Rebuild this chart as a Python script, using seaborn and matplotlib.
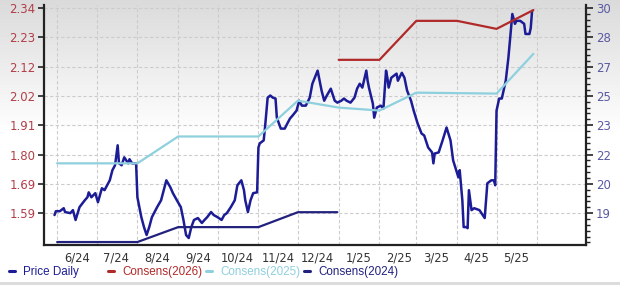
import numpy as np
import pandas as pd
import matplotlib
matplotlib.use("Agg")
import matplotlib.pyplot as plt
import seaborn as sns
from matplotlib.lines import Line2D
from matplotlib.ticker import AutoMinorLocator

# ---------------- data ----------------
price_dates = [
    "2024-05-30", "2024-05-31", "2024-06-03", "2024-06-06", "2024-06-07", "2024-06-11",
    "2024-06-13", "2024-06-15", "2024-06-18", "2024-06-22", "2024-06-24", "2024-06-25",
    "2024-06-27", "2024-06-30", "2024-07-02", "2024-07-05", "2024-07-07", "2024-07-11",
    "2024-07-13", "2024-07-15", "2024-07-17", "2024-07-18", "2024-07-20", "2024-07-22",
    "2024-07-25", "2024-07-26", "2024-07-28", "2024-07-31", "2024-08-01", "2024-08-04",
    "2024-08-06", "2024-08-08", "2024-08-10", "2024-08-12", "2024-08-16", "2024-08-19",
    "2024-08-21", "2024-08-23", "2024-08-26", "2024-08-28", "2024-08-31", "2024-09-03",
    "2024-09-05", "2024-09-07", "2024-09-09", "2024-09-11", "2024-09-13", "2024-09-16",
    "2024-09-19", "2024-09-21", "2024-09-23", "2024-09-26", "2024-09-28", "2024-10-01",
    "2024-10-04", "2024-10-06", "2024-10-08", "2024-10-11", "2024-10-14", "2024-10-16",
    "2024-10-19", "2024-10-21", "2024-10-22", "2024-10-24", "2024-10-26", "2024-10-28",
    "2024-10-31", "2024-11-01", "2024-11-02", "2024-11-05", "2024-11-06", "2024-11-08",
    "2024-11-10", "2024-11-12", "2024-11-14", "2024-11-15", "2024-11-18", "2024-11-21",
    "2024-11-23", "2024-11-25", "2024-11-27", "2024-11-30", "2024-12-02", "2024-12-04",
    "2024-12-07", "2024-12-10", "2024-12-12", "2024-12-16", "2024-12-19", "2024-12-21",
    "2024-12-23", "2024-12-26", "2024-12-29", "2024-12-31", "2025-01-03", "2025-01-05",
    "2025-01-07", "2025-01-10", "2025-01-13", "2025-01-15", "2025-01-17", "2025-01-19",
    "2025-01-22", "2025-01-23", "2025-01-24", "2025-01-27", "2025-01-28", "2025-01-30",
    "2025-02-02", "2025-02-04", "2025-02-06", "2025-02-07", "2025-02-08", "2025-02-10",
    "2025-02-14", "2025-02-15", "2025-02-18", "2025-02-20", "2025-02-22", "2025-02-25",
    "2025-02-27", "2025-03-02", "2025-03-05", "2025-03-07", "2025-03-10", "2025-03-13",
    "2025-03-14", "2025-03-15", "2025-03-18", "2025-03-21", "2025-03-24", "2025-03-27",
    "2025-03-29", "2025-04-01", "2025-04-02", "2025-04-03", "2025-04-05", "2025-04-06",
    "2025-04-08", "2025-04-09", "2025-04-10", "2025-04-12", "2025-04-14", "2025-04-18",
    "2025-04-22", "2025-04-24", "2025-04-27", "2025-04-29", "2025-04-30", "2025-05-01",
    "2025-05-03", "2025-05-05", "2025-05-08", "2025-05-10", "2025-05-13", "2025-05-15",
    "2025-05-16", "2025-05-19", "2025-05-22", "2025-05-23", "2025-05-26", "2025-05-27",
    "2025-05-28",
]
price_vals = [
    1.583, 1.597, 1.597, 1.608, 1.594, 1.590,
    1.601, 1.565, 1.612, 1.637, 1.648, 1.666,
    1.648, 1.663, 1.630, 1.681, 1.674, 1.710,
    1.747, 1.765, 1.838, 1.772, 1.765, 1.794,
    1.772, 1.787, 1.772, 1.772, 1.648, 1.575,
    1.539, 1.510, 1.539, 1.575, 1.612, 1.637,
    1.674, 1.710, 1.685, 1.663, 1.637, 1.612,
    1.565, 1.510, 1.499, 1.539, 1.565, 1.572,
    1.554, 1.565, 1.575, 1.594, 1.583, 1.575,
    1.565, 1.583, 1.590, 1.612, 1.637, 1.692,
    1.710, 1.674, 1.637, 1.594, 1.637, 1.663,
    1.666, 1.830, 1.845, 1.856, 1.903, 2.012,
    2.020, 2.012, 2.009, 1.939, 1.899, 1.899,
    1.918, 1.936, 1.947, 1.965, 2.001, 1.983,
    1.983, 2.012, 2.063, 2.111, 2.038, 2.001,
    2.020, 2.045, 2.001, 1.994, 2.001, 2.009,
    2.001, 1.994, 2.012, 2.045, 2.063, 2.049,
    2.111, 2.074, 2.049, 1.990, 1.939, 1.976,
    1.983, 1.972, 2.111, 2.085, 2.049, 2.085,
    2.100, 2.074, 2.103, 2.085, 2.038, 2.001,
    1.965, 1.918, 1.881, 1.874, 1.830, 1.812,
    1.772, 1.808, 1.812, 1.856, 1.903, 1.856,
    1.783, 1.736, 1.721, 1.747, 1.637, 1.539,
    1.539, 1.535, 1.674, 1.601, 1.608, 1.601,
    1.572, 1.699, 1.710, 1.710, 1.692, 1.965,
    2.009, 2.009, 2.074, 2.158, 2.318, 2.282,
    2.293, 2.293, 2.282, 2.245, 2.245, 2.267,
    2.329,
]

c2026_dates = ["2025-01-01", "2025-02-01", "2025-03-01", "2025-04-01", "2025-05-01", "2025-05-29"]
c2026_vals = [27.22, 27.22, 29.31, 29.31, 28.88, 29.89]

c2025_dates = ["2024-06-01", "2024-08-01", "2024-09-01", "2024-11-01", "2024-12-01",
               "2025-01-01", "2025-02-01", "2025-03-01", "2025-05-01", "2025-05-29"]
c2025_vals = [21.67, 21.67, 23.11, 23.11, 25.03, 24.66, 24.50, 25.46, 25.41, 27.54]

c2024_dates = ["2024-06-01", "2024-08-01", "2024-09-01", "2024-11-01", "2024-12-01", "2024-12-31"]
c2024_vals = [17.45, 17.45, 18.25, 18.25, 19.05, 19.05]

month_labels = ["6/24", "7/24", "8/24", "9/24", "10/24", "11/24",
                "12/24", "1/25", "2/25", "3/25", "4/25", "5/25"]
left_tick_labels = ["1.59", "1.69", "1.80", "1.91", "2.02", "2.12", "2.23", "2.34"]
right_tick_labels = ["19", "20", "22", "23", "25", "27", "28", "30"]

series_names = ["Price Daily", "Consens(2026)", "Consens(2025)", "Consens(2024)"]

# ---------------- style ----------------
NAVY = "#1c1c96"
RED = "#b02a2a"
LBLUE = "#8fd0de"
NAVY2 = "#22227e"
GRID = "#cccccc"

sns.set_theme(style="white")
plt.rcParams["font.family"] = ["DejaVu Sans"]

W, H = 620, 285
fig = plt.figure(figsize=(W / 100, H / 100), dpi=100)

# background gradient (grey at top fading to white), thin grey rule at the very bottom
bg = fig.add_axes([0, 0, 1, 1], zorder=-10)
rows = np.arange(H)
g = np.clip(0.855 + 0.145 * rows / 135.0, 0, 1)
g[rows >= H - 3] = 0.86
img = np.repeat(g[:, None], W, axis=1)
bg.imshow(img, cmap="gray", vmin=0, vmax=1, aspect="auto", extent=[0, 1, 0, 1],
          interpolation="nearest")
bg.set_axis_off()

ax = fig.add_axes([44 / W, 40 / H, 542 / W, 240 / H])
ax.set_facecolor("none")
ax2 = ax.twinx()
ax2.set_facecolor("none")

pdates = pd.to_datetime(price_dates)
sns.lineplot(x=pdates, y=price_vals, ax=ax, color=NAVY, lw=1.8, legend=False,
             estimator=None, sort=False)

sns.lineplot(x=pd.to_datetime(c2025_dates), y=c2025_vals, ax=ax2, color=LBLUE, lw=1.6,
             legend=False, estimator=None)
sns.lineplot(x=pd.to_datetime(c2024_dates), y=c2024_vals, ax=ax2, color=NAVY2, lw=1.6,
             legend=False, estimator=None)
sns.lineplot(x=pd.to_datetime(c2026_dates), y=c2026_vals, ax=ax2, color=RED, lw=1.6,
             legend=False, estimator=None)

# axis limits
ax.set_xlim(pd.Timestamp("2024-05-22"), pd.Timestamp("2025-07-08"))
lt = np.linspace(float(left_tick_labels[0]), float(left_tick_labels[-1]), len(left_tick_labels))
lstep = lt[1] - lt[0]
ax.set_ylim(lt[0] - lstep * 32 / 29.43, lt[-1] + lstep * 3 / 29.43)
rt = np.linspace(float(right_tick_labels[0]), float(right_tick_labels[-1]), len(right_tick_labels))
rstep = rt[1] - rt[0]
ax2.set_ylim(rt[0] - rstep * 32 / 29.43, rt[-1] + rstep * 3 / 29.43)

# ticks
month_starts = pd.date_range("2024-06-01", periods=len(month_labels) + 1, freq="MS")
ax.set_xticks(month_starts[:-1] + pd.Timedelta(days=15))
ax.set_xticklabels(month_labels)
ax.set_xticks(month_starts, minor=True)
ax.tick_params(axis="x", which="both", length=0, pad=5, labelsize=8.3, labelcolor="#333333")

ax.set_yticks(lt)
ax.set_yticklabels(left_tick_labels)
ax.tick_params(axis="y", which="major", length=4, width=1.2, color="#222222",
               labelcolor="#b23e48", labelsize=8.5, pad=2, direction="out", left=True)

ax2.set_yticks(rt)
ax2.set_yticklabels(right_tick_labels)
ax2.yaxis.set_minor_locator(AutoMinorLocator(5))
ax2.tick_params(axis="y", which="major", length=5, width=1.2, color="#222222",
                labelcolor="#5a5aa2", labelsize=8.5, pad=2, direction="out", right=True)
ax2.tick_params(axis="y", which="minor", length=3, width=1.0, color="#222222", right=True)

# grid
ax.grid(False)
ax2.grid(False)
ax.grid(which="minor", axis="x", color=GRID, lw=0.8, ls=(0, (3, 2)))
ax.grid(which="major", axis="y", color=GRID, lw=0.8, ls=(0, (3, 2)))
ax.set_axisbelow(True)

for a in (ax, ax2):
    a.set_xlabel("")
    a.set_ylabel("")
    for s in a.spines.values():
        s.set_visible(False)
ax.spines["left"].set_visible(True)
ax.spines["bottom"].set_visible(True)
ax2.spines["right"].set_visible(True)
for s in (ax.spines["left"], ax.spines["bottom"], ax2.spines["right"]):
    s.set_color("#222222")
    s.set_linewidth(1.6)

# legend entries placed along the bottom
leg_colors = [NAVY, RED, LBLUE, NAVY2]
leg_x = [9, 108, 206, 304]
for name, col, x in zip(series_names, leg_colors, leg_x):
    fig.legend(handles=[Line2D([0], [0], color=col, lw=2.2)], labels=[name],
               loc="center left", bbox_to_anchor=(x / W, 1 - 272 / H), frameon=False,
               handlelength=0.55, handletextpad=0.65, borderpad=0, borderaxespad=0,
               labelcolor=col, prop={"family": "Liberation Sans", "size": 8.4})

fig.savefig("out.png", dpi=100)
